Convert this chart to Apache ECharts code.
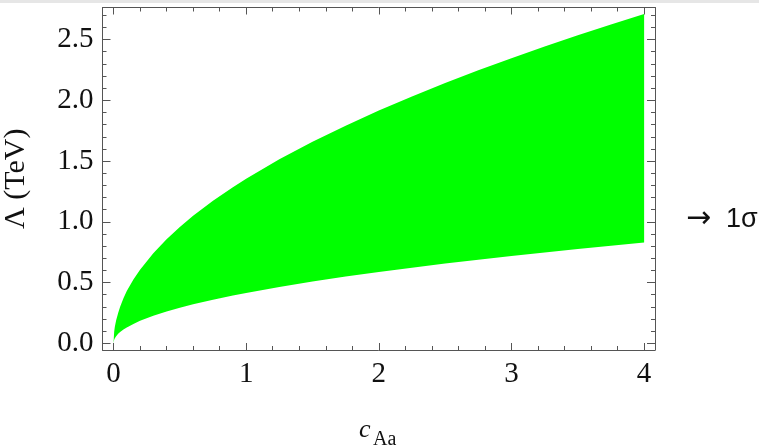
<!DOCTYPE html>
<html>
<head>
<meta charset="utf-8">
<script src="https://cdn.jsdelivr.net/npm/echarts@6/dist/echarts.min.js"></script>
<style>
html,body{margin:0;padding:0;background:#fff;}
#c{width:759px;height:445px;}
</style>
</head>
<body>
<div id="c"></div>
<script>
// Data
const cAa   = [0, 0.005, 0.01, 0.02, 0.035, 0.05, 0.075, 0.1, 0.15, 0.2, 0.3, 0.4, 0.5, 0.6, 0.75, 0.9, 1, 1.25, 1.5, 1.75, 2, 2.25, 2.5, 2.75, 3, 3.25, 3.5, 3.75, 4];
const upper = [0, 0.096, 0.136, 0.19, 0.25, 0.30, 0.37, 0.43, 0.525, 0.606, 0.742, 0.857, 0.958, 1.05, 1.173, 1.285, 1.355, 1.515, 1.66, 1.79, 1.916, 2.032, 2.142, 2.247, 2.347, 2.443, 2.535, 2.624, 2.71];
const lower = [0, 0.029, 0.042, 0.059, 0.078, 0.093, 0.114, 0.131, 0.16, 0.186, 0.227, 0.262, 0.293, 0.321, 0.359, 0.394, 0.415, 0.464, 0.508, 0.549, 0.587, 0.622, 0.656, 0.688, 0.719, 0.748, 0.776, 0.804, 0.83];
const xMajor = [0, 1, 2, 3, 4];
const xMinor = [0, 0.2, 0.4, 0.6, 0.8, 1, 1.2, 1.4, 1.6, 1.8, 2, 2.2, 2.4, 2.6, 2.8, 3, 3.2, 3.4, 3.6, 3.8, 4];
const yMajor = [0, 0.5, 1.0, 1.5, 2.0, 2.5];
const yMinor = [0, 0.1, 0.2, 0.3, 0.4, 0.5, 0.6, 0.7, 0.8, 0.9, 1.0, 1.1, 1.2, 1.3, 1.4, 1.5, 1.6, 1.7, 1.8, 1.9, 2.0, 2.1, 2.2, 2.3, 2.4, 2.5, 2.6, 2.7];
const xRange = [-0.083, 4.082];
const yRange = [-0.055, 2.764];
const yTitle = '\u039b (TeV)';
const xTitleMain = 'c';
const xTitleSub = 'Aa';
const arrowText = '\u2192';
const sigmaText = '1\u03c3';

const lineCol = '#555';
const serif = '"Liberation Serif","DejaVu Serif",serif';
const sans = '"Liberation Sans",Arial,sans-serif';

function xAx(pos, ticks, len, showLine, showLabel) {
  return {
    type: 'value', position: pos, min: xRange[0], max: xRange[1],
    axisLine: {show: showLine, onZero: false, lineStyle: {color: lineCol, width: 1}},
    axisTick: {show: true, inside: true, length: len, customValues: ticks, lineStyle: {color: lineCol}},
    axisLabel: {show: showLabel, customValues: xMajor, color: '#111', fontFamily: serif, fontSize: 29, margin: 10,
      formatter: v => String(v)},
    splitLine: {show: false}
  };
}
function yAx(pos, ticks, len, showLine, showLabel, extra) {
  return Object.assign({
    type: 'value', position: pos, min: yRange[0], max: yRange[1],
    axisLine: {show: showLine, onZero: false, lineStyle: {color: lineCol, width: 1}},
    axisTick: {show: true, inside: true, length: len, customValues: ticks, lineStyle: {color: lineCol}},
    axisLabel: {show: showLabel, customValues: yMajor, color: '#111', fontFamily: serif, fontSize: 29, margin: 9,
      formatter: v => v.toFixed(1)},
    splitLine: {show: false}
  }, extra || {});
}

const chart = echarts.init(document.getElementById('c'), null, {renderer: 'canvas'});

chart.setOption({
  animation: false,
  backgroundColor: '#fff',
  grid: {left: 102.5, right: 104, top: 7.5, bottom: 95, containLabel: false, outerBoundsMode: 'none'},
  xAxis: [
    xAx('bottom', xMajor, 7, true, true),
    xAx('bottom', xMinor, 4, false, false),
    xAx('top', xMajor, 7, true, false),
    xAx('top', xMinor, 4, false, false)
  ],
  yAxis: [
    yAx('left', yMajor, 8, true, true, {
      name: yTitle, nameLocation: 'middle', nameGap: 71, nameRotate: 90,
      nameTextStyle: {fontFamily: serif, fontSize: 30, color: '#111'}
    }),
    yAx('left', yMinor, 4, false, false),
    yAx('right', yMajor, 8, true, false),
    yAx('right', yMinor, 4, false, false)
  ],
  series: [{
    type: 'custom', xAxisIndex: 0, yAxisIndex: 0, z: 1,
    data: cAa.map((x, i) => [x, lower[i], upper[i]]),
    renderItem: function (params, api) {
      if (params.dataIndex !== 0) return null;
      const pts = [];
      for (let i = 0; i < cAa.length; i++) pts.push(api.coord([cAa[i], upper[i]]));
      for (let i = cAa.length - 1; i >= 0; i--) pts.push(api.coord([cAa[i], lower[i]]));
      return {type: 'polygon', shape: {points: pts}, style: {fill: '#00ff00', stroke: null}};
    }
  }],
  graphic: [
    {type: 'rect', shape: {x: 0, y: 0, width: 759, height: 3}, style: {fill: '#e6e6e6'}, silent: true},
    {type: 'text', left: 359, top: 417, style: {text: xTitleMain, fontFamily: serif, fontStyle: 'italic', fontSize: 26, fill: '#111'}},
    {type: 'text', left: 373, top: 430, style: {text: xTitleSub, fontFamily: serif, fontSize: 20, fill: '#111'}},
    {type: 'text', left: 686, top: 204, style: {text: arrowText, fontFamily: '"DejaVu Sans",sans-serif', fontSize: 30, fill: '#111'}},
    {type: 'text', left: 726, top: 206, style: {text: sigmaText, fontFamily: sans, fontSize: 27, fill: '#111'}}
  ]
});
</script>
</body>
</html>
